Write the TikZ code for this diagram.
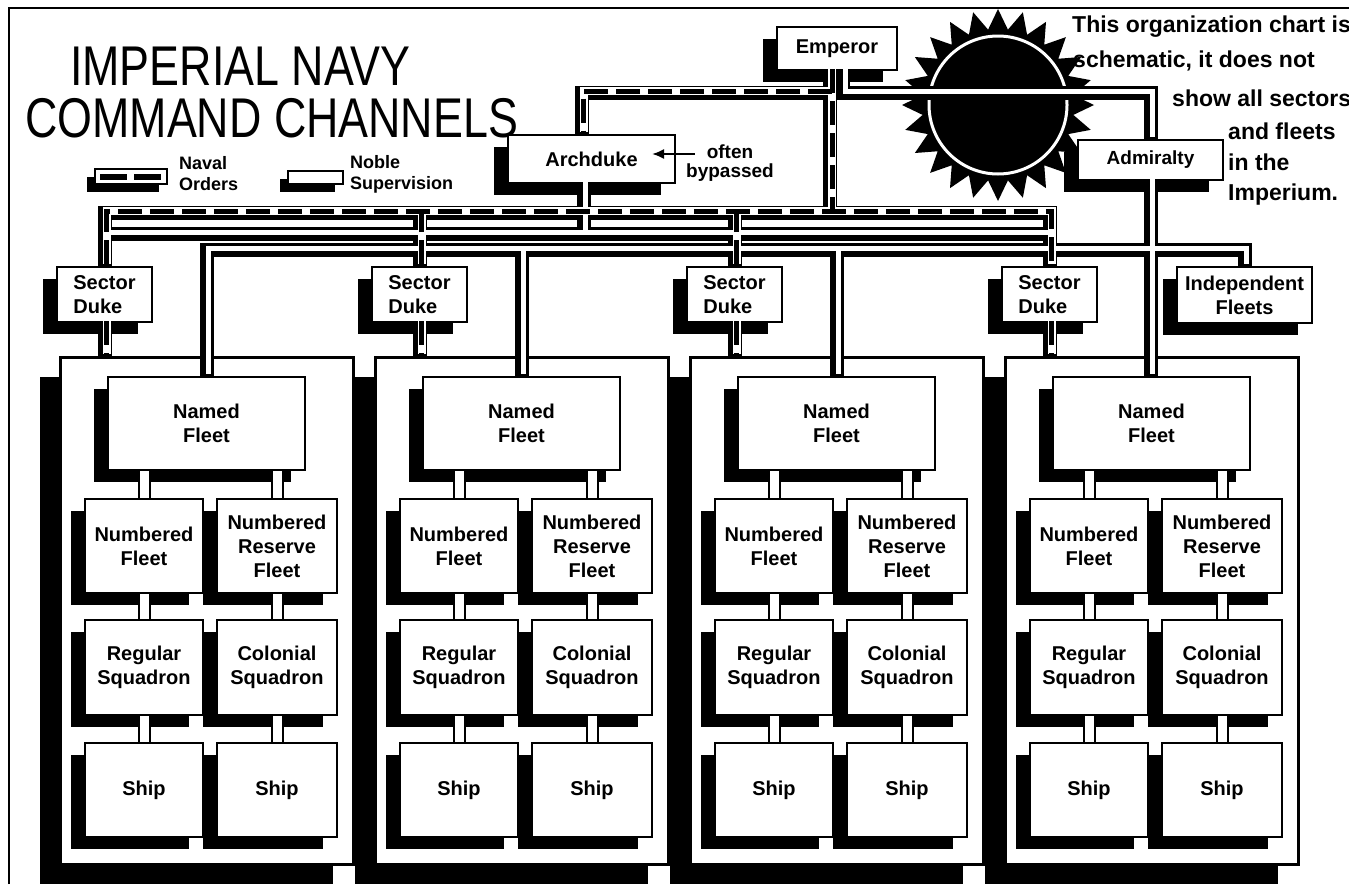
\documentclass[tikz,border=0pt]{standalone}
\usepackage{fontspec}
\setmainfont{Liberation Sans}
\newfontfamily\titlefont{Liberation Sans}[FakeStretch=0.8]
\usetikzlibrary{positioning,arrows.meta,shadows}

\tikzset{
sector/.style={
rectangle,
draw=black,
line width=3pt,
fill=white,
minimum width=293pt,
minimum height=507pt,
drop shadow={shadow xshift=-20pt,shadow yshift=-20pt,opacity=1,fill=black}
},
unit/.style={
rectangle,
draw=black,
line width=2.5pt,
fill=white,
align=center,
inner sep=2pt,
font=\fontsize{20}{24}\selectfont\bfseries,
drop shadow={shadow xshift=-14pt,shadow yshift=-12pt,opacity=1,fill=black}
},
legendbar/.style={
draw=black,
line width=2pt,
fill=white,
drop shadow={shadow xshift=-8pt,shadow yshift=-8pt,opacity=1,fill=black}
},
pipe edge/.style={draw=black,line width=14pt},
noble core/.style={draw=white,line width=5pt,transform canvas={shift={(2pt,2pt)}}},
naval core/.style={draw=white,line width=8pt,transform canvas={shift={(2pt,2pt)}}},
naval dash/.style={draw=black,line width=5pt,dash pattern=on 24pt off 8pt,transform canvas={shift={(2pt,2pt)}}},
stub/.style={draw=black,line width=2pt,double=white,double distance=9pt},
note/.style={anchor=base west,inner sep=0pt,font=\fontsize{23}{26}\selectfont\bfseries},
legendtext/.style={anchor=west,align=left,inner sep=0pt,font=\fontsize{18}{21}\selectfont\bfseries}
}

% channel paths, drawn in layers so that joints merge
\newcommand{\navalnet}{
([xshift=-7pt]emp.south) -- ([xshift=-7pt]emp.south |- navbus)
(empk) -| ([xshift=-10pt]arch.north)
(sd1.north) |- (sd4.north |- navbus) -- (sd4.north)
(sd2.north) -- (sd2.north |- navbus)
(sd3.north) -- (sd3.north |- navbus)
foreach \i in {1,...,4} {(sd\i.south) -- (sd\i.south |- sec\i.north)}
}
\newcommand{\noblenet}{
([xshift=6pt]emp.south) |- (adm.north |- empk) -- (adm.north)
([xshift=-8pt]arch.south) -- ([xshift=-8pt]arch.south |- nobbus)
(sd1.north |- nobbus) -- (sd4.north |- nobbus)
(adm.south) -- (adm.south |- nf4.north)
(nf1.north) |- (ind.north |- admbus) -- (ind.north)
(nf2.north) -- (nf2.north |- admbus)
(nf3.north) -- (nf3.north |- admbus)
}

\begin{document}
\begin{tikzpicture}[x=1pt,y=-1pt]
\useasboundingbox (0,0) rectangle (1349,884);
%Frame
\draw[line width=2pt] (9,884) -- (9,8) -- (1349,8);
%Title
\node[anchor=base west,inner sep=0pt,font=\titlefont\fontsize{56}{60}\selectfont] (title1) at (70,85) {IMPERIAL NAVY};
\node[anchor=base west,inner sep=0pt,font=\titlefont\fontsize{56}{60}\selectfont] (title2) at (25,137) {COMMAND CHANNELS};
%Legend
\draw[legendbar] (95,169) rectangle (167,184);
\draw[line width=6pt,dash pattern=on 27pt off 7pt] (100,176.5) -- (162,176.5);
\node[legendtext] (navallbl) at (179,174) {Naval\\Orders};
\draw[legendbar] (288,171) rectangle (343,184);
\node[legendtext] (noblelbl) at (350,174) {Noble\\Supervision};
%Notes
\node[note] (note1) at (1072,32) {This organization chart is};
\node[note] (note2) at (1073,67) {schematic, it does not};
\node[note] (note3) at (1172,106) {show all sectors};
\node[note] (note4) at (1228,139) {and fleets};
\node[note] (note5) at (1228,170) {in the};
\node[note] (note6) at (1228,200) {Imperium.};
%Sun
\coordinate (sun) at (998,105);
\fill[shift={(sun)}] plot[samples at={0,7.5,...,352.5},variable=\t] ({(86+10*cos(24*\t))*cos(\t)},{(86+10*cos(24*\t))*sin(\t)}) -- cycle;
\draw[white,line width=3pt] (sun) circle[radius=69pt];
%Top nodes
\node[unit,minimum width=120pt,minimum height=43pt] (emp) at (837,48.5) {Emperor};
\node[unit,minimum width=167pt,minimum height=48pt] (arch) at (591.5,159) {Archduke};
\node[unit,minimum width=145pt,minimum height=40pt,font=\fontsize{19}{22}\selectfont\bfseries] (adm) at (1150.5,160) {Admiralty};
\node[align=center,inner sep=0pt,font=\fontsize{19}{19}\selectfont\bfseries] (byp) at (730,163) {often\\bypassed};
\coordinate (bytip) at (652,154);
\node[unit,minimum width=135pt,minimum height=56pt] (ind) at (1244.5,295) {Independent\\Fleets};
%Sectors
\foreach \i in {1,...,4} {
\pgfmathsetmacro{\sx}{60+315*(\i-1)}
\node[sector] (sec\i) at (\sx+146.5,610.5) {};
\node[unit,align=left,minimum width=95pt,minimum height=55pt] (sd\i) at (\sx+44.5,294.5) {Sector\\Duke};
\node[unit,minimum width=197pt,minimum height=93pt] (nf\i) at (\sx+146.5,423.5) {Named\\Fleet};
\node[unit,minimum width=118pt,minimum height=94pt] (numl\i) at (\sx+84,546) {Numbered\\Fleet};
\node[unit,minimum width=120pt,minimum height=94pt] (numr\i) at (\sx+217,546) {Numbered\\Reserve\\Fleet};
\node[unit,minimum width=118pt,minimum height=95pt] (sql\i) at (\sx+84,667.5) {Regular\\Squadron};
\node[unit,minimum width=120pt,minimum height=95pt] (sqr\i) at (\sx+217,667.5) {Colonial\\Squadron};
\node[unit,minimum width=118pt,minimum height=94pt] (shl\i) at (\sx+84,790) {Ship};
\node[unit,minimum width=120pt,minimum height=94pt] (shr\i) at (\sx+217,790) {Ship};
}
%Channels
\coordinate (navbus) at (0,213);
\coordinate (nobbus) at (0,234);
\coordinate (admbus) at (0,250);
\coordinate (empk) at (830,93);
\draw[pipe edge] \navalnet \noblenet;
\draw[noble core] \noblenet;
\draw[naval core] \navalnet;
\draw[naval dash] \navalnet;
\draw[line width=2pt,-{Latex[length=12pt,width=10pt]}] ([xshift=9pt]byp.west |- bytip) -- (bytip);
%Links inside the sectors
\foreach \i in {1,...,4} {
\draw[stub] (numl\i.north |- nf\i.south) -- (numl\i.north);
\draw[stub] (numr\i.north |- nf\i.south) -- (numr\i.north);
\draw[stub] (numl\i.south) -- (sql\i.north);
\draw[stub] (numr\i.south) -- (sqr\i.north);
\draw[stub] (sql\i.south) -- (shl\i.north);
\draw[stub] (sqr\i.south) -- (shr\i.north);
}
\end{tikzpicture}
\end{document}
